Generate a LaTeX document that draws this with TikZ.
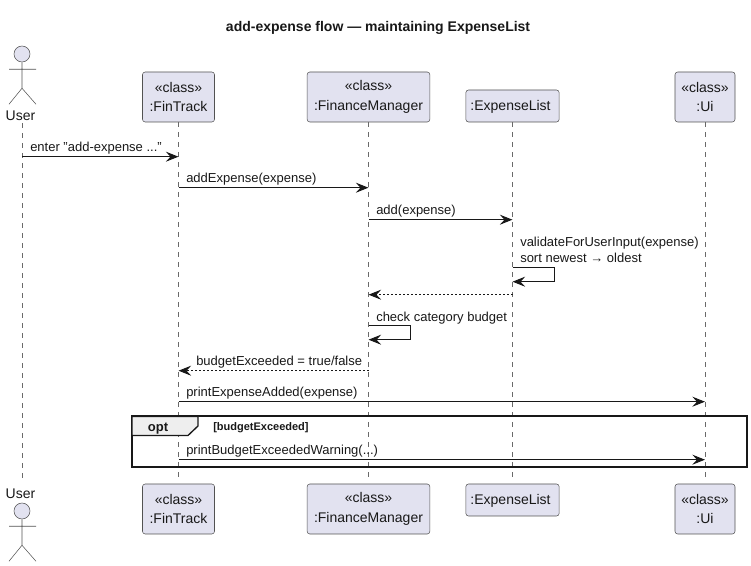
\documentclass[tikz,border=0pt]{standalone}
\usepackage{fontspec}
\setmainfont{Liberation Sans}
\usetikzlibrary{arrows.meta}
\definecolor{partfill}{HTML}{E2E2F0}
\definecolor{partline}{HTML}{181818}
\definecolor{tabfill}{HTML}{EEEEEE}
\begin{document}
\begin{tikzpicture}[
    x=0.75pt,
    y=-0.75pt,
    every node/.style={
        font=\fontsize{10.5}{14.5}\selectfont,
        align=center,
        text=partline
    },
    participant/.style={
        draw=partline!75,
        line width=0.4pt,
        rounded corners=2pt,
        fill=partfill,
        minimum height=37.5pt,
        inner sep=0pt,
        execute at begin node=\rule{0pt}{9.5pt}
    },
    plainpart/.style={
        participant,
        minimum height=24pt
    },
    actorhead/.style={
        circle,
        draw=partline!75,
        line width=0.4pt,
        fill=partfill,
        minimum size=12pt,
        inner sep=0pt
    },
    actorname/.style={
        inner sep=0pt,
        minimum height=10.5pt
    },
    actorline/.style={
        partline!75,
        line width=0.4pt
    },
    lifeline/.style={
        partline!65,
        line width=0.35pt,
        dash pattern=on 3.75pt off 3.75pt
    },
    message/.style={
        -{Stealth[length=9.5pt,width=7.5pt,inset=3.5pt]},
        partline,
        line width=0.75pt
    },
    reply/.style={
        message,
        dash pattern=on 1.5pt off 1.5pt
    },
    msglabel/.style={
        anchor=base west,
        inner sep=0pt,
        font=\fontsize{9.75}{12}\selectfont,
        align=left
    },
    frameline/.style={
        draw=partline,
        line width=1.5pt
    }
]

\useasboundingbox (0,0) rectangle (751,566);

\node[font=\fontsize{10.5}{12}\selectfont\bfseries, inner sep=0pt] (title) at (380,27.5) {
    add-expense flow --- maintaining ExpenseList
};

\node[actorhead] (userhead) at (22,54) {};
\node[actorname] (usertop) at (20.5,116) {User};
\node[participant, minimum width=54pt] (fintop) at (178.5,97) {
    «class»\\:FinTrack
};
\node[participant, minimum width=92pt] (mgrtop) at (368.5,97) {
    «class»\\:FinanceManager
};
\node[plainpart, minimum width=70pt] (listtop) at (512.5,106) {
    :ExpenseList
};
\node[participant, minimum width=45pt] (uitop) at (705,97) {
    «class»\\:Ui
};

\node[actorname] (userbot) at (20.5,494) {User};
\node[actorhead] (userfoot) at (22,511) {};
\node[participant, minimum width=54pt] (finbot) at (178.5,509) {
    «class»\\:FinTrack
};
\node[participant, minimum width=92pt] (mgrbot) at (368.5,509) {
    «class»\\:FinanceManager
};
\node[plainpart, minimum width=70pt] (listbot) at (512.5,500) {
    :ExpenseList
};
\node[participant, minimum width=45pt] (uibot) at (705,509) {
    «class»\\:Ui
};

\draw[actorline]
    (userhead.south) -- ++(0,26) -- ++(-13,16)
    ++(13,-16) -- ++(14,16)
    (userhead.south) ++(-13,7) -- ++(27,0);
\draw[actorline]
    (userfoot.south) -- ++(0,26) -- ++(-13,16)
    ++(13,-16) -- ++(14,16)
    (userfoot.south) ++(-13,7) -- ++(27,0);

\draw[lifeline, shorten >=3.5pt] (userhead |- usertop.south) -- (userhead |- userbot.north);
\draw[lifeline, shorten >=4.5pt] (fintop.south) -- (finbot.north);
\draw[lifeline, shorten >=4.5pt] (mgrtop.south) -- (mgrbot.north);
\draw[lifeline, shorten >=4.5pt] (listtop.south) -- (listbot.north);
\draw[lifeline, shorten >=4.5pt] (uitop.south) -- (uibot.north);

\coordinate (rowenter) at (0,156.7);
\coordinate (rowadd) at (0,187.7);
\coordinate (rowlist) at (0,219.7);
\coordinate (rowsort) at (0,267.7);
\coordinate (rowback) at (0,294.7);
\coordinate (rowcheck) at (0,325.7);
\coordinate (rowflag) at (0,370.7);
\coordinate (rowprint) at (0,401.7);
\coordinate (rowwarn) at (0,459.7);

\draw[message]
    (userhead |- rowenter)
    --
    (fintop |- rowenter);
\node[msglabel] (enterlabel) at (30,151.5) {enter "add-expense ..."};

\draw[message]
    (fintop |- rowadd)
    --
    (mgrtop |- rowadd);
\node[msglabel] (addlabel) at (186,183) {addExpense(expense)};

\draw[message]
    (mgrtop |- rowlist)
    --
    (listtop |- rowlist);
\node[msglabel] (listlabel) at (376,214.5) {add(expense)};

\draw[message]
    (listtop |- rowsort)
    -- ++(42,0) -- ++(0,14) --
    ([yshift=-10.5pt]listtop |- rowsort);
\node[msglabel] (sortlabel) at (520,262.5) {
    validateForUserInput(expense)\\
    sort newest → oldest
};

\draw[reply]
    (listtop |- rowback)
    --
    (mgrtop |- rowback);

\draw[message]
    (mgrtop |- rowcheck)
    -- ++(42,0) -- ++(0,14) --
    ([yshift=-10.5pt]mgrtop |- rowcheck);
\node[msglabel] (checklabel) at (376,321.5) {check category budget};

\draw[reply]
    (mgrtop |- rowflag)
    --
    (fintop |- rowflag);
\node[msglabel] (flaglabel) at (196,365.5) {budgetExceeded = true/false};

\draw[message]
    (fintop |- rowprint)
    --
    (uitop |- rowprint);
\node[msglabel] (printlabel) at (186,397) {printExpenseAdded(expense)};

\draw[frameline] (132,416.5) rectangle (747,467);
\draw[frameline, line width=1pt, fill=tabfill]
    (132,416.5) -- (198,416.5) -- (198,426) -- (188,435.5) -- (132,435.5) -- cycle;
\node[inner sep=0pt, font=\fontsize{9.75}{12}\selectfont\bfseries] (optlabel) at (158,429) {opt};
\node[msglabel, font=\fontsize{8.25}{10}\selectfont\bfseries] (guardlabel) at (213,430.5) {[budgetExceeded]};

\draw[message]
    (fintop |- rowwarn)
    --
    (uitop |- rowwarn);
\node[msglabel] (warnlabel) at (186,455) {printBudgetExceededWarning(...)};

\end{tikzpicture}
\end{document}
